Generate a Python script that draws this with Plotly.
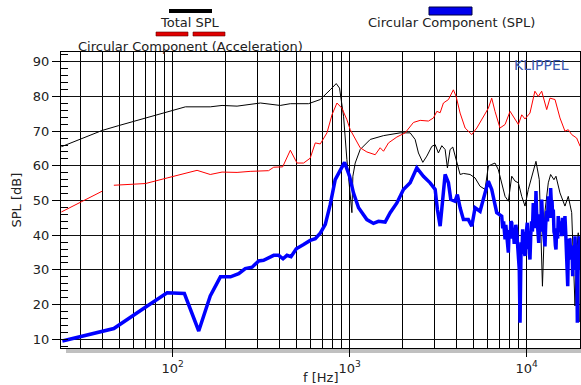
import plotly.graph_objects as go

# ---- measured curves (frequency in Hz, level in dB SPL) ----
total_f = [23.5, 40.0, 49.6, 118, 163, 190, 231, 313, 405, 462, 585, 682, 776, 839, 876,
           923, 964, 1007, 1029, 1042, 1074, 1146, 1306, 1552, 1928, 2195, 2342, 2445,
           2588, 2727, 2910, 3039, 3171, 3314, 3459, 3564, 3690, 3823, 4027, 4204, 4390,
           4786, 5108, 5450, 5816, 6070, 6343, 6620, 6910, 7221, 7545, 7875, 8230, 8590,
           8970, 9370, 9780, 10210, 10670, 11280, 11780, 12270, 12680, 13240, 13650,
           14250, 14630, 15410, 16440, 17170, 17950, 18330, 18740, 19150, 19550, 19820]
total_db = [65.5, 70.2, 71.6, 77.0, 77.0, 77.4, 77.2, 78.1, 77.4, 77.9, 77.9, 79.1, 81.9,
            83.7, 82.4, 74.3, 61.8, 51.2, 46.5, 57.0, 60.8, 64.7, 67.6, 68.7, 69.5, 69.5,
            67.6, 63.7, 61.0, 62.8, 65.6, 66.1, 63.7, 65.8, 64.7, 59.4, 64.7, 65.4, 60.8,
            57.5, 57.8, 57.5, 56.5, 54.1, 53.2, 59.9, 60.4, 60.8, 58.9, 55.1, 51.2, 49.8,
            57.0, 55.6, 55.1, 51.2, 48.4, 53.2, 57.0, 61.3, 56.0, 25.3, 46.9, 55.1, 57.5,
            56.0, 57.0, 52.2, 48.4, 51.2, 46.5, 30.0, 19.6, 35.0, 40.7, 15.0]

acc_f = [23.5, 40.0, None, 46.5, 70.2, 93, 137.3, 163, 190, 231, 274, 348, 372, 418, 462,
         504, 549, 598, 639, 682, 744, 794, 847, 904, 964, 1007, 1074, 1146, 1250, 1393,
         1486, 1552, 1656, 1847, 2057, 2291, 2501, 2786, 2973, 3106, 3243, 3384, 3612,
         3852, 3991, 4204, 4487, 4893, 5224, 5690, 6070, 6343, 6620, 7065, 7545, 8054,
         8400, 8970, 9370, 9780, 10430, 11120, 11620, 12150, 12970, 13530, 14450, 15410,
         16440, 17170, 17950, 19150, 20040]
acc_db = [46.7, 52.7, None, 54.4, 54.9, 56.5, 58.7, 57.5, 58.2, 58.1, 58.4, 58.6, 59.6,
          59.7, 64.5, 60.8, 60.8, 62.2, 66.6, 66.3, 69.5, 74.7, 78.1, 76.6, 73.3, 70.4,
          67.6, 65.2, 64.0, 63.2, 65.2, 64.2, 66.6, 68.3, 69.5, 72.5, 73.1, 72.9, 73.8,
          75.7, 75.3, 78.1, 79.1, 81.9, 80.0, 75.2, 70.9, 69.0, 70.9, 74.3, 76.6, 79.5,
          75.7, 70.9, 71.9, 75.7, 74.3, 71.9, 74.7, 73.5, 75.2, 81.5, 80.0, 81.5, 76.2,
          79.5, 79.1, 73.8, 70.0, 70.4, 69.0, 68.0, 65.6]

circ_f = [23.8, 46.5, 71.8, 93, 116.4, 140.3, 163, 186, 212, 236, 257, 281, 306, 326, 372,
          397, 420, 442, 466, 499, 549, 598, 639, 682, 728, 776, 828, 885, 935, 998, 1050,
          1122, 1250, 1362, 1454, 1585, 1693, 1847, 2012, 2195, 2394, 2608, 2845, 3039,
          3129, 3243, 3356, 3459, 3612, 3724, 3937, 4056, 4204, 4390, 4680, 4893, 5108,
          5450, 5816, 6070, 6343, 6770,
          7221, 7320, 7400, 7470, 7545, 7620, 7700, 7790, 7875, 7960, 8050, 8140, 8230,
          8320, 8400, 8500, 8590, 8680, 8780, 8880, 8970, 9080, 9165, 9230, 9300, 9400,
          9490, 9560, 9630, 9700, 9780, 9850, 9920, 10000, 10070, 10160, 10250, 10340,
          10430, 10540, 10650, 10770, 10890, 10970, 11050, 11160, 11280, 11360, 11450,
          11570, 11690, 11800, 11900, 12020, 12150, 12270, 12400, 12540, 12680, 12800,
          12950, 13100, 13240, 13350, 13450, 13550, 13650, 13780, 13900, 14010, 14130,
          14260, 14400, 14520, 14630, 14740, 14850, 14960, 15070, 15230, 15400, 15580,
          15770, 15930, 16100, 16270, 16440, 16600, 16750, 16900, 17050, 17180, 17300,
          17420, 17540, 17700, 17850, 18020, 18190, 18320, 18450, 18600, 18740, 18870,
          19000, 19160, 19320, 19440, 19550, 19690, 19820, 19920, 20000]
circ_db = [9.5, 13.1, 19.6, 23.4, 23.2, 12.4, 22.5, 28.0, 28.0, 28.9, 30.4, 30.8, 32.6,
           32.8, 34.2, 34.2, 33.2, 34.2, 33.8, 36.1, 37.3, 38.5, 39.0, 40.6, 43.1, 48.8,
           56.0, 58.9, 61.0, 57.0, 52.2, 47.9, 44.5, 43.4, 44.0, 43.8, 46.5, 49.3, 53.2,
           55.1, 59.4, 57.0, 55.1, 53.2, 47.4, 42.6, 52.2, 57.5, 55.1, 50.3, 49.8, 51.7,
           47.9, 44.5, 44.5, 42.6, 47.9, 46.9, 52.2, 55.6, 53.2, 46.5,
           45.5, 42.0, 44.0, 39.5, 38.8, 43.0, 41.0, 37.0, 35.0, 41.5, 39.0, 44.0, 43.6,
           39.0, 41.5, 37.5, 39.7, 43.0, 41.0, 37.0, 35.9, 30.0, 14.8, 33.0, 38.0, 35.0,
           41.7, 37.0, 39.0, 35.0, 34.0, 41.0, 38.0, 42.0, 43.6, 36.0, 40.0, 35.0,
           33.0, 40.0, 44.0, 41.0, 49.3, 44.0, 47.0, 42.0, 52.7, 47.0, 44.0,
           40.0, 37.8, 44.0, 46.0, 41.0, 50.3, 45.0, 42.0, 39.0, 36.8, 43.0,
           47.0, 44.0, 51.2, 47.0, 48.0, 45.0, 53.6, 49.0, 50.0, 45.0, 47.4,
           41.0, 40.0, 37.0, 35.9, 41.0, 42.0, 39.0, 45.5, 42.0, 41.0, 44.0,
           39.7, 45.0, 44.0, 40.0, 45.5, 41.0, 37.0, 33.0, 25.3, 36.0, 34.0,
           39.0, 38.8, 35.0, 33.0, 37.0, 28.2, 34.0, 36.0, 32.0, 39.7, 35.0,
           30.0, 36.0, 14.8, 28.0, 32.0, 38.0, 39.7, 30.0, 36.0]

# ---- axis ticks ----
x_major = [100, 1000, 10000]
x_major_text = ["10<sup>2</sup>", "10<sup>3</sup>", "10<sup>4</sup>"]
x_minor = [m * d for d in (10, 100, 1000) for m in range(2, 10)]
y_ticks = [10, 20, 30, 40, 50, 60, 70, 80, 90]

W, H = 581, 385
ML, MR, MT, MB = 61, 1, 52, 37
PW, PH = W - ML - MR, H - MT - MB
FONT = "DejaVu Sans"


def px(x):
    return (x - ML) / PW


def py(y):
    return (H - MB - y) / PH


fig = go.Figure()
fig.add_trace(go.Scatter(x=total_f, y=total_db, mode="lines", name="Total SPL",
                         line=dict(color="#000000", width=1)))
fig.add_trace(go.Scatter(x=acc_f, y=acc_db, mode="lines", connectgaps=False,
                         name="Circular Component (Acceleration)",
                         line=dict(color="#ff0000", width=1)))
fig.add_trace(go.Scatter(x=circ_f, y=circ_db, mode="lines",
                         name="Circular Component (SPL)",
                         line=dict(color="#0000ff", width=3.5)))

fig.update_xaxes(type="log", range=[1.369, 4.301],
                 tickmode="array", tickvals=x_major, ticktext=x_major_text,
                 ticks="outside", ticklen=8, tickcolor="black",
                 showgrid=True, gridcolor="black", gridwidth=1,
                 minor=dict(tickmode="array", tickvals=x_minor, showgrid=True,
                            gridcolor="black", gridwidth=1, ticks=""),
                 showline=True, linecolor="black", linewidth=1, mirror=True,
                 zeroline=False, tickfont=dict(family=FONT, size=13, color="#222"))
fig.update_yaxes(range=[7.5, 92.8], tickmode="array", tickvals=y_ticks,
                 ticks="outside", ticklen=8, tickcolor="black",
                 showgrid=True, gridcolor="#111", gridwidth=1,
                 minor=dict(dtick=2, tick0=0, ticks="inside", ticklen=7,
                            tickcolor="black", showgrid=False),
                 showline=True, linecolor="black", linewidth=1, mirror=True,
                 zeroline=False, tickfont=dict(family=FONT, size=13, color="#222"))

shapes = [
    # shadow strip under the plot frame
    dict(type="rect", xref="paper", yref="paper", x0=px(66), x1=px(581), y0=py(349),
         y1=py(353), fillcolor="#c0c0c0", line=dict(width=0), layer="below"),
    # legend swatches
    dict(type="rect", xref="paper", yref="paper", x0=px(169), x1=px(212), y0=py(9),
         y1=py(13), fillcolor="#000000", line=dict(width=0)),
    dict(type="rect", xref="paper", yref="paper", x0=px(156), x1=px(188), y0=py(32),
         y1=py(36), fillcolor="#e00000", line=dict(color="#600000", width=0.6)),
    dict(type="rect", xref="paper", yref="paper", x0=px(193), x1=px(225), y0=py(32),
         y1=py(36), fillcolor="#e00000", line=dict(color="#600000", width=0.6)),
    dict(type="rect", xref="paper", yref="paper", x0=px(429), x1=px(472), y0=py(7),
         y1=py(15), fillcolor="#0000ee", line=dict(color="#000040", width=1)),
]

ann_font = dict(family=FONT, size=13, color="#222")
annotations = [
    dict(text="Total SPL", x=px(190), y=py(22.5), xref="paper", yref="paper",
         showarrow=False, xanchor="center", yanchor="middle", font=ann_font),
    dict(text="Circular Component (Acceleration)", x=px(190), y=py(46),
         xref="paper", yref="paper", showarrow=False, xanchor="center",
         yanchor="middle", font=ann_font),
    dict(text="Circular Component (SPL)", x=px(451), y=py(22.5), xref="paper",
         yref="paper", showarrow=False, xanchor="center", yanchor="middle",
         font=ann_font),
    dict(text="KLIPPEL", x=px(541), y=py(65), xref="paper", yref="paper",
         showarrow=False, xanchor="center", yanchor="middle",
         font=dict(family=FONT, size=14, color="#3a58b0")),
    dict(text="SPL [dB]", x=px(15.5), y=0.5, xref="paper", yref="paper",
         showarrow=False, textangle=-90, xanchor="center", yanchor="middle",
         font=ann_font),
    dict(text="f [Hz]", x=px(320), y=py(377), xref="paper", yref="paper",
         showarrow=False, xanchor="center", yanchor="middle", font=ann_font),
]

fig.update_layout(width=W, height=H, margin=dict(l=ML, r=MR, t=MT, b=MB),
                  plot_bgcolor="white", paper_bgcolor="white", showlegend=False,
                  shapes=shapes, annotations=annotations,
                  font=dict(family=FONT, size=13, color="#222"))

fig.write_html("out.html")
